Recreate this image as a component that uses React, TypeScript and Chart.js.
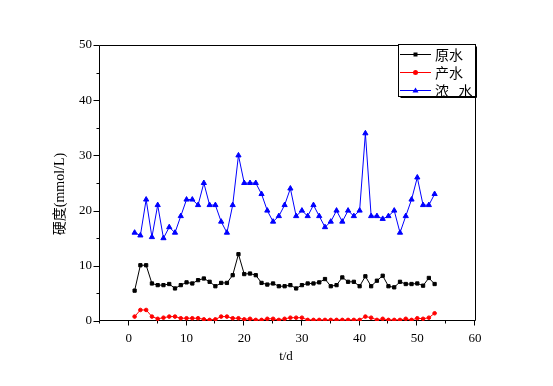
import React, { useEffect, useRef } from 'react';
import { Chart, registerables } from 'chart.js';

Chart.register(...registerables);

// Days (x values)
const days = [
  1, 2, 3, 4, 5, 6, 7, 8, 9, 10,
  11, 12, 13, 14, 15, 16, 17, 18, 19, 20,
  21, 22, 23, 24, 25, 26, 27, 28, 29, 30,
  31, 32, 33, 34, 35, 36, 37, 38, 39, 40,
  41, 42, 43, 44, 45, 46, 47, 48, 49, 50,
  51, 52, 53,
];

// 原水 (raw water) hardness
const rawWater = [
  5.5, 10.1, 10.1, 6.8, 6.5, 6.5, 6.7, 5.9, 6.5, 7.0,
  6.8, 7.4, 7.7, 7.1, 6.3, 6.9, 6.9, 8.3, 12.1, 8.5,
  8.6, 8.3, 6.9, 6.6, 6.8, 6.3, 6.3, 6.5, 5.9, 6.5,
  6.8, 6.8, 7.0, 7.6, 6.3, 6.5, 7.9, 7.1, 7.1, 6.3,
  8.1, 6.3, 7.3, 8.2, 6.3, 6.1, 7.1, 6.7, 6.7, 6.8,
  6.4, 7.8, 6.7,
];

// 产水 (product water) hardness
const productWater = [
  0.8, 2.0, 2.0, 0.8, 0.4, 0.6, 0.8, 0.8, 0.5, 0.5,
  0.5, 0.5, 0.3, 0.2, 0.3, 0.8, 0.8, 0.5, 0.5, 0.3,
  0.4, 0.2, 0.2, 0.4, 0.4, 0.2, 0.4, 0.6, 0.6, 0.6,
  0.2, 0.2, 0.2, 0.2, 0.2, 0.2, 0.2, 0.2, 0.2, 0.2,
  0.8, 0.6, 0.2, 0.4, 0.2, 0.2, 0.2, 0.4, 0.2, 0.5,
  0.4, 0.6, 1.4,
];

// 浓水 (concentrate) hardness
const concentrate = [
  16, 15.5, 22, 15.2, 21, 15, 17, 16, 19, 22,
  22, 21, 25, 21, 21, 18, 16, 21, 30, 25,
  25, 25, 23, 20, 18, 19, 21, 24, 19, 20,
  19, 21, 19, 17, 18, 20, 18, 20, 19, 20,
  34, 19, 19, 18.5, 19, 20, 16, 19, 22, 26,
  21, 21, 23,
];

const seriesLabels = ['原水', '产水', '浓   水'];
const seriesColors = ['#000000', '#ff0000', '#0000ff'];
const yTitle = '硬度(mmol/L)';
const xTitle = 't/d';

const framePlugin = {
  id: 'frame',
  beforeDatasetsDraw(chart: any) {
    const { ctx, chartArea: a, scales } = chart;
    const L = Math.floor(a.left) - 0.5;
    const R = Math.floor(a.right) + 0.5;
    const T = Math.floor(a.top) + 0.5;
    const B = Math.floor(a.bottom) - 0.5;
    ctx.save();
    ctx.strokeStyle = '#000';
    ctx.lineWidth = 1;
    ctx.beginPath();
    ctx.rect(L, T, R - L, B - T);
    ctx.stroke();
    ctx.beginPath();
    for (const t of scales.x.ticks) {
      const px = Math.round(scales.x.getPixelForValue(t.value)) - 0.5;
      const len = t.value % 10 === 0 ? 5 : 3;
      ctx.moveTo(px, B);
      ctx.lineTo(px, B + len);
    }
    for (const t of scales.y.ticks) {
      const py = Math.round(scales.y.getPixelForValue(t.value)) + 0.5;
      const len = t.value % 10 === 0 ? 6 : 3;
      ctx.moveTo(L, py);
      ctx.lineTo(L - len, py);
    }
    ctx.stroke();
    ctx.restore();
  },
};

const titlePlugin = {
  id: 'titles',
  afterDraw(chart: any) {
    const { ctx } = chart;
    ctx.save();
    ctx.fillStyle = '#000';
    ctx.textAlign = 'center';
    ctx.textBaseline = 'middle';
    ctx.font = "13px 'Liberation Serif', 'Noto Sans CJK SC'";
    ctx.fillText(xTitle, 286, 357);
    ctx.translate(60, 194);
    ctx.rotate(-Math.PI / 2);
    ctx.font = "14px 'Liberation Serif', 'Noto Sans CJK SC'";
    ctx.fillText(yTitle, 0, 0);
    ctx.restore();
  },
};

const legendPlugin = {
  id: 'customLegend',
  afterDraw(chart: any) {
    const { ctx } = chart;
    const x0 = 398.5, y0 = 44.5, x1 = 475.5, y1 = 96.5;
    ctx.save();
    ctx.fillStyle = '#fff';
    ctx.fillRect(x0, y0, x1 - x0, y1 - y0);
    ctx.strokeStyle = '#000';
    ctx.lineWidth = 1;
    ctx.strokeRect(x0, y0, x1 - x0, y1 - y0);
    ctx.beginPath();
    ctx.moveTo(x1 + 1, y0 + 2);
    ctx.lineTo(x1 + 1, y1 + 1);
    ctx.lineTo(x0 + 2, y1 + 1);
    ctx.stroke();
    const rows = [54, 72, 90];
    ctx.font = "14px 'Noto Sans CJK SC'";
    ctx.textBaseline = 'middle';
    ctx.textAlign = 'left';
    rows.forEach((ry, i) => {
      const c = seriesColors[i];
      ctx.strokeStyle = c;
      ctx.fillStyle = c;
      ctx.beginPath();
      ctx.moveTo(400, ry + 0.5);
      ctx.lineTo(431, ry + 0.5);
      ctx.stroke();
      const mx = 415.5, my = ry + 0.5;
      ctx.beginPath();
      if (i === 0) {
        ctx.rect(mx - 2, my - 2, 4, 4);
      } else if (i === 1) {
        ctx.arc(mx, my, 2.5, 0, Math.PI * 2);
      } else {
        ctx.moveTo(mx, my - 3);
        ctx.lineTo(mx + 3, my + 2);
        ctx.lineTo(mx - 3, my + 2);
        ctx.closePath();
      }
      ctx.fill();
      ctx.fillStyle = '#000';
      ctx.fillText(seriesLabels[i], 435, ry + 1);
    });
    ctx.restore();
  },
};

const tickFont = { family: "'Liberation Serif'", size: 13 };

export default function App() {
  const ref = useRef<HTMLCanvasElement>(null);
  useEffect(() => {
    const mk = (vals: number[]) => days.map((d, i) => ({ x: d, y: vals[i] }));
    const chart = new Chart(ref.current as HTMLCanvasElement, {
      type: 'line',
      data: {
        datasets: [
          {
            label: seriesLabels[0],
            data: mk(rawWater),
            borderColor: seriesColors[0],
            backgroundColor: seriesColors[0],
            borderWidth: 1,
            pointStyle: 'rect',
            pointRadius: 2.3,
            pointBorderWidth: 1,
            tension: 0,
          },
          {
            label: seriesLabels[1],
            data: mk(productWater),
            borderColor: seriesColors[1],
            backgroundColor: seriesColors[1],
            borderWidth: 1,
            pointStyle: 'circle',
            pointRadius: 1.8,
            pointBorderWidth: 1,
            tension: 0,
          },
          {
            label: seriesLabels[2],
            data: mk(concentrate),
            borderColor: seriesColors[2],
            backgroundColor: seriesColors[2],
            borderWidth: 1,
            pointStyle: 'triangle',
            pointRadius: 3,
            pointBorderWidth: 1,
            tension: 0,
          },
        ],
      },
      options: {
        animation: false,
        responsive: false,
        devicePixelRatio: 1,
        layout: { padding: { top: 45, right: 78, left: 0, bottom: 0 } },
        plugins: { legend: { display: false }, tooltip: { enabled: false } },
        scales: {
          x: {
            type: 'linear',
            min: -5,
            max: 60,
            grid: { display: false, drawTicks: false },
            border: { display: false },
            ticks: {
              stepSize: 5,
              autoSkip: false,
              maxRotation: 0,
              padding: 10,
              color: '#000',
              font: tickFont,
              callback: (v: any) => (Number(v) % 10 === 0 ? String(v) : ''),
            },
            afterFit: (s: any) => {
              s.height = 65;
            },
          },
          y: {
            type: 'linear',
            min: 0,
            max: 50,
            grid: { display: false, drawTicks: false },
            border: { display: false },
            ticks: {
              stepSize: 5,
              autoSkip: false,
              padding: 8,
              color: '#000',
              font: tickFont,
              callback: (v: any) => (Number(v) % 10 === 0 ? String(v) : ''),
            },
            afterFit: (s: any) => {
              s.width = 100;
            },
          },
        },
      } as any,
      plugins: [framePlugin, titlePlugin, legendPlugin],
    });
    return () => chart.destroy();
  }, []);
  return (
    <div style={{ position: 'absolute', left: 0, top: 0, width: 553, height: 386, background: '#fff' }}>
      <canvas ref={ref} width={553} height={386} style={{ display: 'block' }} />
    </div>
  );
}
